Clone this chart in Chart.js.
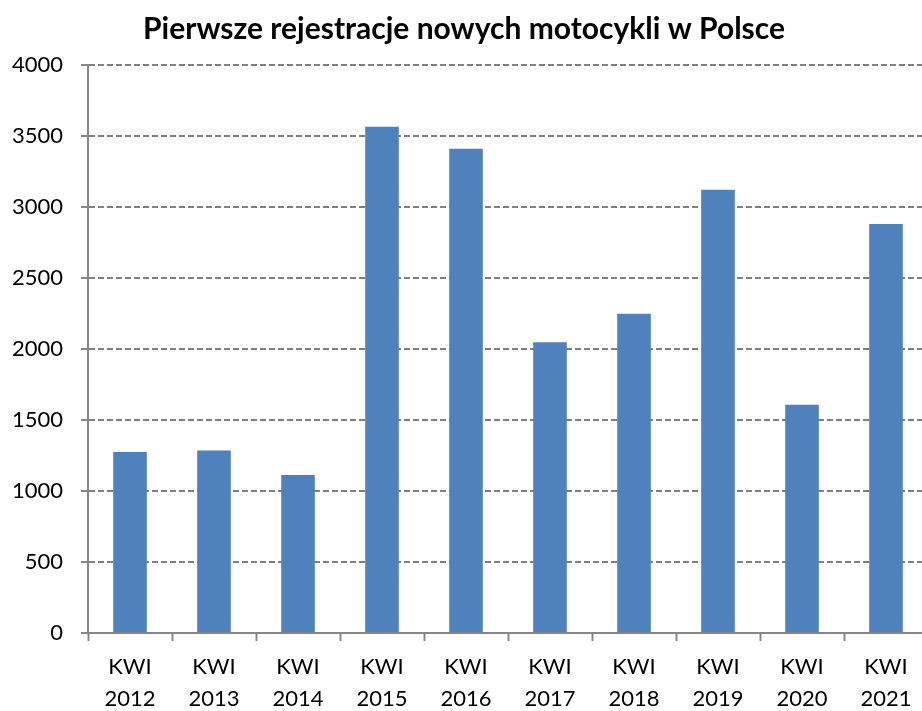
<!DOCTYPE html>
<html lang="pl">
<head>
<meta charset="utf-8">
<title>Pierwsze rejestracje nowych motocykli w Polsce</title>
<script src="https://cdn.jsdelivr.net/npm/chart.js@4.4.1/dist/chart.umd.min.js"></script>
<style>
  html, body { margin: 0; padding: 0; background: #fff; overflow: hidden; }
  #wrap { width: 922px; height: 711px; overflow: hidden; }
  canvas { display: block; }
</style>
</head>
<body>
<div id="wrap">
  <canvas id="chart" width="930" height="711"></canvas>
</div>
<script>
const quarterLabel = "KWI";
const years = ["2012", "2013", "2014", "2015", "2016", "2017", "2018", "2019", "2020", "2021"];
const registrations = [1275, 1285, 1113, 3565, 3411, 2048, 2248, 3122, 1608, 2881];
const yTicks = [0, 500, 1000, 1500, 2000, 2500, 3000, 3500, 4000];

const FONT = "Lato, 'Liberation Sans', sans-serif";
const AXIS_GREY = "#868686";

const labels = years.map(y => [quarterLabel, y]);

const ctx = document.getElementById("chart").getContext("2d");
new Chart(ctx, {
  type: "bar",
  data: {
    labels: labels,
    datasets: [{
      label: "Pierwsze rejestracje",
      data: registrations,
      backgroundColor: "#4F81BD",
      borderWidth: 0,
      categoryPercentage: 1,
      barPercentage: 0.4
    }]
  },
  options: {
    responsive: false,
    animation: false,
    devicePixelRatio: 1,
    layout: { padding: { left: 0, right: 2, top: 0, bottom: 0 } },
    plugins: {
      legend: { display: false },
      tooltip: { enabled: false },
      title: {
        display: true,
        text: "Pierwsze rejestracje nowych motocykli w Polsce",
        color: "#000",
        font: { family: FONT, size: 30, weight: "bold", lineHeight: 1.2 },
        padding: { top: 11, bottom: 18 }
      }
    },
    scales: {
      x: {
        grid: {
          offset: true,
          drawOnChartArea: false,
          tickLength: 8,
          tickColor: AXIS_GREY,
          tickWidth: 2
        },
        border: { color: AXIS_GREY, width: 2 },
        ticks: {
          color: "#000",
          padding: 10,
          maxRotation: 0,
          autoSkip: false,
          font: { family: FONT, size: 22, lineHeight: 1.45 }
        },
        afterFit: scale => { scale.height = 78; }
      },
      y: {
        min: 0,
        max: 4000,
        afterBuildTicks: scale => { scale.ticks = yTicks.map(v => ({ value: v })); },
        grid: {
          color: "#7f7f7f",
          lineWidth: 2,
          tickLength: 7,
          tickColor: AXIS_GREY,
          tickWidth: 2
        },
        border: { color: AXIS_GREY, width: 2, dash: [6, 3] },
        ticks: {
          color: "#000",
          padding: 18,
          font: { family: FONT, size: 22 },
          callback: value => String(value)
        },
        afterFit: scale => { scale.width = 88; }
      }
    }
  }
});
</script>
</body>
</html>
